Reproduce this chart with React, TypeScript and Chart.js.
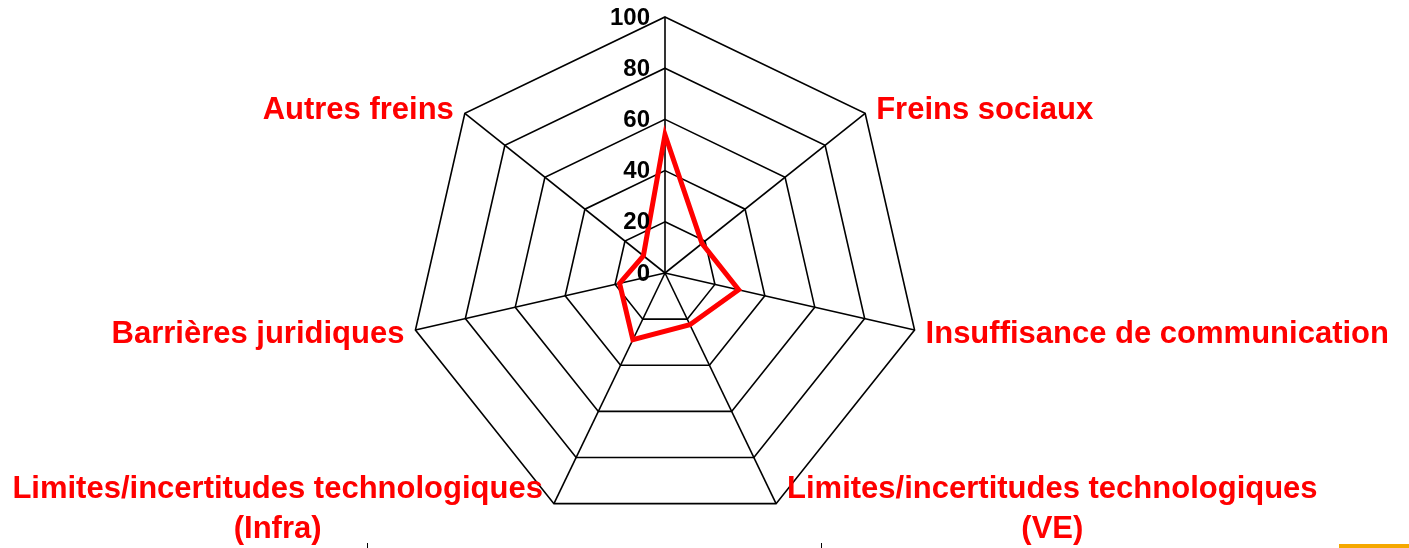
import React, { useEffect, useRef } from "react";
import { Chart, registerables } from "chart.js";

Chart.register(...registerables);

const categories: (string | string[])[] = [
  "",
  "Freins sociaux",
  "Insuffisance de communication",
  ["Limites/incertitudes technologiques", "(VE)"],
  ["Limites/incertitudes technologiques", "(Infra)"],
  "Barrières juridiques",
  "Autres freins",
];

const seriesValues: number[] = [54, 18.5, 29.5, 22.4, 28.9, 18.2, 10.8];

const tickLabels: number[] = [0, 20, 40, 60, 80, 100];

const RED = "#ff0000";
const FONT = "'Liberation Sans', Arial, sans-serif";

const labelPlugin = {
  id: "customLabels",
  afterDraw(chart: any) {
    const scale = chart.scales.r;
    const ctx = chart.ctx;
    const cx = scale.xCenter;
    const cy = scale.yCenter;
    ctx.save();
    // tick labels
    ctx.font = `bold 24px ${FONT}`;
    ctx.fillStyle = "#000";
    ctx.textAlign = "right";
    ctx.textBaseline = "middle";
    tickLabels.forEach((v) => {
      const d = scale.getDistanceFromCenterForValue(v);
      ctx.fillText(String(v), cx - 15, cy - d + 1);
    });
    // point labels
    ctx.font = `bold 31px ${FONT}`;
    ctx.fillStyle = RED;
    ctx.textBaseline = "alphabetic";
    const lineH = 40;
    const capMid = 11;
    categories.forEach((lab, i) => {
      const lines = Array.isArray(lab) ? lab : [lab];
      if (!lines.join("")) return;
      const p = scale.getPointPositionForValue(i, 100);
      const dx = p.x - cx;
      const dy = p.y - cy;
      const len = Math.sqrt(dx * dx + dy * dy) || 1;
      const uy = dy / len;
      const widths = lines.map((l: string) => ctx.measureText(l).width);
      const blockW = Math.max(...widths);
      let left: number;
      if (dx > 1) left = p.x + 11;
      else if (dx < -1) left = p.x - 11 - blockW;
      else left = p.x - blockW / 2;
      let centerY: number;
      if (uy < -0.3) centerY = p.y - 5.2;
      else if (uy > 0.6) centerY = p.y + 3.6;
      else centerY = p.y + 1.7;
      const firstCap = centerY - ((lines.length - 1) * lineH) / 2;
      lines.forEach((l: string, k: number) => {
        ctx.textAlign = "center";
        ctx.fillText(l, left + blockW / 2, firstCap + k * lineH + capMid);
      });
    });
    ctx.restore();
  },
};

export default function App() {
  const ref = useRef<HTMLCanvasElement>(null);
  useEffect(() => {
    if (!ref.current) return;
    const chart = new Chart(ref.current, {
      type: "radar",
      data: {
        labels: categories as any,
        datasets: [
          {
            data: seriesValues,
            borderColor: RED,
            borderWidth: 5,
            fill: false,
            pointRadius: 0,
            pointHoverRadius: 0,
            tension: 0,
            borderJoinStyle: "miter",
          },
        ],
      },
      options: {
        responsive: false,
        animation: false,
        devicePixelRatio: 1,
        layout: { padding: { left: 0, right: 79, top: 17, bottom: 19 } },
        plugins: { legend: { display: false }, tooltip: { enabled: false } },
        scales: {
          r: {
            min: 0,
            max: 100,
            ticks: { display: false, stepSize: 20 },
            pointLabels: { display: false },
            grid: { color: "#000", lineWidth: 1.6 },
            angleLines: { color: "#000", lineWidth: 1.6 },
          },
        },
      },
      plugins: [labelPlugin],
    });
    return () => chart.destroy();
  }, []);
  return (
    <div style={{ position: "absolute", left: 0, top: 0, width: 1409, height: 548, background: "#fff", overflow: "hidden" }}>
      <canvas ref={ref} width={1409} height={548} style={{ display: "block" }} />
      <div style={{ position: "absolute", left: 367, top: 543, width: 1, height: 5, background: "#000" }} />
      <div style={{ position: "absolute", left: 821, top: 543, width: 1, height: 5, background: "#000" }} />
      <div style={{ position: "absolute", left: 1339, top: 544, width: 70, height: 4, background: "#f5a800" }} />
    </div>
  );
}
